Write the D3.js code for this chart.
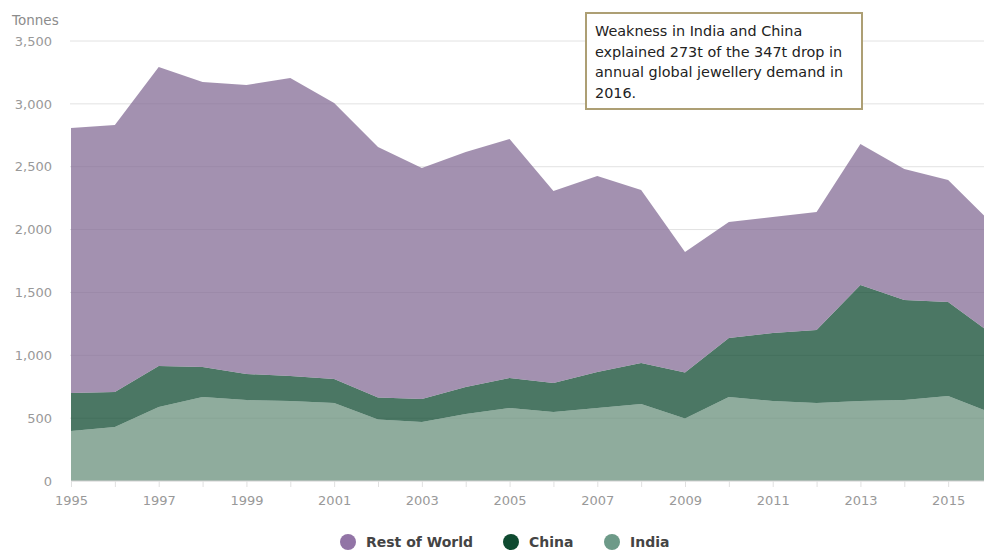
<!DOCTYPE html>
<html>
<head>
<meta charset="utf-8">
<script src="https://cdn.jsdelivr.net/npm/d3@7"></script>
<style>
  html, body { margin: 0; padding: 0; background: #fff; }
  svg { display: block; font-family: "DejaVu Sans", sans-serif; }
</style>
</head>
<body>
<svg id="chart" width="984" height="550"></svg>
<script>
// Annual jewellery demand (tonnes), stacked by region
const years = [1995, 1996, 1997, 1998, 1999, 2000, 2001, 2002, 2003, 2004, 2005,
               2006, 2007, 2008, 2009, 2010, 2011, 2012, 2013, 2014, 2015, 2016];
const india = [398, 430, 589, 668, 644, 636, 620, 489, 469, 533, 581,
               549, 581, 613, 497, 668, 636, 620, 636, 644, 676, 541];
const china = [302, 278, 326, 239, 207, 199, 191, 175, 183, 215, 238,
               231, 286, 326, 366, 470, 541, 581, 923, 796, 748, 628];
const restOfWorld = [2108, 2124, 2378, 2267, 2299, 2371, 2196, 1993, 1838, 1869, 1901,
                     1527, 1559, 1376, 959, 922, 923, 939, 1122, 1042, 970, 881];

const seriesNames = ["India", "China", "Rest of World"];
const seriesColors = ["#6a907c", "#0f4a30", "#846c95"];
const legendColors = ["#6d9a88", "#0f4a30", "#9274a6"];
const legendOrder = ["Rest of World", "China", "India"];

const yTicks = [0, 500, 1000, 1500, 2000, 2500, 3000, 3500];
const xLabelYears = [1995, 1997, 1999, 2001, 2003, 2005, 2007, 2009, 2011, 2013, 2015];

const noteLines = [
  "Weakness in India and China",
  "explained 273t of the 347t drop in",
  "annual global jewellery demand in",
  "2016."
];

const rows = years.map((yr, i) => ({
  year: yr,
  "India": india[i],
  "China": china[i],
  "Rest of World": restOfWorld[i]
}));

const svg = d3.select("#chart");
const plotLeft = 71, plotRight = 992, plotTop = 41, plotBottom = 481;

const x = d3.scaleLinear().domain([1995, 2016]).range([plotLeft, plotRight]);
const y = d3.scaleLinear().domain([0, 3500]).range([plotBottom, plotTop]);
const color = d3.scaleOrdinal().domain(seriesNames).range(seriesColors);
const legendColor = d3.scaleOrdinal().domain(seriesNames).range(legendColors);

// horizontal gridlines
svg.append("g")
  .selectAll("line")
  .data(yTicks.filter(d => d > 0))
  .join("line")
  .attr("x1", plotLeft - 1).attr("x2", 984)
  .attr("y1", d => y(d)).attr("y2", d => y(d))
  .attr("stroke", "#e2e2e2").attr("stroke-width", 1);

// stacked areas
const stacked = d3.stack().keys(seriesNames)(rows);
const area = d3.area()
  .x(d => x(d.data.year))
  .y0(d => y(d[0]))
  .y1(d => y(d[1]));

svg.append("g")
  .selectAll("path")
  .data(stacked)
  .join("path")
  .attr("d", area)
  .attr("fill", d => color(d.key))
  .attr("fill-opacity", 0.75);

// y axis labels
const yAxis = d3.axisLeft(y).tickValues(yTicks).tickSize(0).tickPadding(0)
  .tickFormat(d3.format(","));
svg.append("g")
  .attr("transform", `translate(${52},0)`)
  .call(yAxis)
  .call(g => g.select(".domain").remove())
  .call(g => g.selectAll("text")
    .attr("fill", "#999").attr("font-size", 13)
    .attr("font-family", "DejaVu Sans, sans-serif"));

svg.append("text")
  .attr("x", 12).attr("y", 25)
  .attr("fill", "#8c8c8c").attr("font-size", 13.5)
  .text("Tonnes");

// x axis: baseline, yearly ticks, labels every other year
const xAxis = d3.axisBottom(x)
  .tickValues(years)
  .tickSize(6)
  .tickPadding(9)
  .tickFormat(d => xLabelYears.includes(d) ? String(d) : "");
svg.append("g")
  .attr("transform", `translate(0,${plotBottom})`)
  .call(xAxis)
  .call(g => g.select(".domain").attr("stroke", "#cfcfcf").attr("d", `M${plotLeft},0H984`))
  .call(g => g.selectAll(".tick line").attr("stroke", "#e0e0e0"))
  .call(g => g.selectAll("text")
    .attr("fill", "#999").attr("font-size", 13)
    .attr("font-family", "DejaVu Sans, sans-serif"));

// annotation box
const note = svg.append("g");
note.append("rect")
  .attr("x", 586).attr("y", 13)
  .attr("width", 276).attr("height", 96)
  .attr("fill", "#fff")
  .attr("stroke", "#ad9f74").attr("stroke-width", 2);
note.selectAll("text")
  .data(noteLines)
  .join("text")
  .attr("x", 595)
  .attr("y", (d, i) => 36 + i * 20.7)
  .attr("fill", "#222")
  .attr("font-size", 14.4)
  .text(d => d);

// legend
const legendX = [348, 511, 612];
const legend = svg.append("g")
  .selectAll("g")
  .data(legendOrder)
  .join("g")
  .attr("transform", (d, i) => `translate(${legendX[i]},542)`);
legend.append("circle")
  .attr("r", 8)
  .attr("fill", d => legendColor(d));
legend.append("text")
  .attr("x", 18).attr("dy", "0.36em")
  .attr("fill", "#444").attr("font-size", 14).attr("font-weight", "bold")
  .text(d => d);
</script>
</body>
</html>
